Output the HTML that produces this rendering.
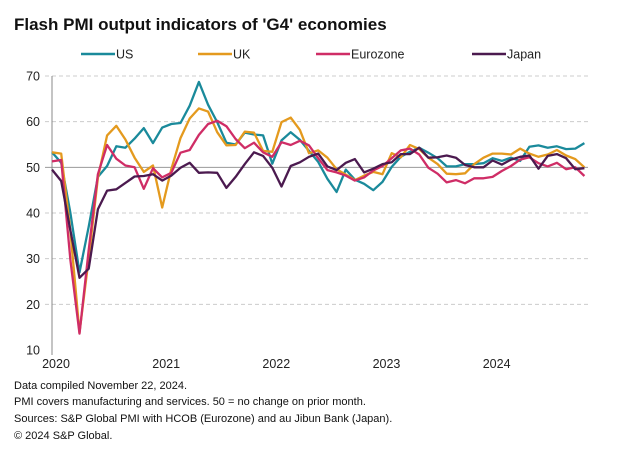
<!DOCTYPE html>
<html><head><meta charset="utf-8"><style>
body{margin:0;background:#fff;width:628px;height:459px;overflow:hidden;font-family:"Liberation Sans",Arial,sans-serif}
</style></head><body>
<svg width="628" height="459" xmlns="http://www.w3.org/2000/svg" font-family="Liberation Sans, Arial, sans-serif">
<text x="14" y="30" font-size="17" font-weight="bold" fill="#111">Flash PMI output indicators of 'G4' economies</text>
<g id="legend" font-size="12.5" fill="#222"></g>
<g id="grid"></g>
<g id="axes" font-size="12.5" fill="#222"></g>
<g id="series"></g>
<g font-size="11" fill="#111">
<text x="14" y="389">Data compiled November 22, 2024.</text>
<text x="14" y="405">PMI covers manufacturing and services. 50 = no change on prior month.</text>
<text x="14" y="422">Sources: S&amp;P Global PMI with HCOB (Eurozone) and au Jibun Bank (Japan).</text>
<text x="14" y="439">© 2024 S&amp;P Global.</text>
</g>
</svg>
<script>
const seriesNames=["US","UK","Eurozone","Japan"];
const colors=["#1a8a9b","#e49a1e","#cf2d66","#4b1a4f"];
const yTicks=[10,20,30,40,50,60,70];
const xTickLabels=["2020","2021","2022","2023","2024"];
const usValues=[53.3,51.0,40.0,27.0,37.0,47.9,50.3,54.6,54.3,56.3,58.6,55.3,58.7,59.5,59.7,63.5,68.7,63.7,59.9,55.4,55.0,57.6,57.2,57.0,50.8,55.9,57.7,56.0,53.6,51.2,47.5,44.6,49.5,47.3,46.4,45.0,46.8,50.1,52.3,53.4,54.3,53.2,52.0,50.2,50.2,50.7,50.7,50.9,52.0,51.4,52.1,51.4,54.5,54.8,54.3,54.6,54.0,54.1,55.3];
const ukValues=[53.3,53.0,36.0,13.8,30.0,47.7,57.0,59.1,56.1,52.1,49.0,50.4,41.2,49.6,56.4,60.7,62.9,62.2,57.7,54.8,54.9,57.8,57.6,53.6,53.4,59.9,60.9,58.2,53.1,53.7,52.1,49.6,48.4,47.2,48.2,49.0,48.5,53.1,52.2,54.9,54.0,52.1,50.7,48.6,48.5,48.7,50.7,52.1,53.0,53.0,52.8,54.1,53.0,52.3,52.8,53.8,52.6,51.8,50.0];
const ezValues=[51.3,51.6,29.7,13.6,31.9,48.5,54.9,51.9,50.4,50.0,45.3,49.8,47.8,48.8,53.2,53.8,57.1,59.5,60.2,59.0,56.2,54.2,55.4,53.3,52.3,55.5,54.9,55.8,54.8,52.0,49.4,48.9,48.2,47.1,47.8,49.3,50.3,52.0,53.7,54.1,52.8,49.9,48.6,46.7,47.2,46.5,47.6,47.6,47.9,49.2,50.3,51.7,52.2,50.9,50.2,51.0,49.6,50.0,48.1];
const jpValues=[49.5,47.0,36.2,25.8,27.8,40.8,44.9,45.2,46.6,48.0,48.1,48.5,47.1,48.2,49.9,51.0,48.8,48.9,48.8,45.5,47.9,50.7,53.3,52.5,49.9,45.8,50.3,51.1,52.3,53.0,50.2,49.4,51.0,51.8,48.9,49.7,50.7,51.1,52.9,52.9,54.3,52.1,52.2,52.6,52.1,50.5,50.0,50.0,51.5,50.6,51.7,52.3,52.6,49.7,52.5,52.9,52.0,49.6,49.8];
const allValues=[usValues,ukValues,ezValues,jpValues];
const NS="http://www.w3.org/2000/svg";
const x0=52,xStep=9.18,yTop=76,yBot=350,vMin=10,vMax=70;
const xScale=i=>x0+i*xStep;
const yScale=v=>yBot-(v-vMin)/(vMax-vMin)*(yBot-yTop);
function mk(tag,attrs,parent){const e=document.createElementNS(NS,tag);for(const k in attrs)e.setAttribute(k,attrs[k]);parent.appendChild(e);return e;}
const grid=document.getElementById('grid'),axes=document.getElementById('axes');
yTicks.forEach(t=>{
  const y=yScale(t);
  if(t===50){const l=mk('line',{x1:45,x2:588,y1:y,y2:y,stroke:'#999','stroke-width':1},grid);
    
    }
  else if(t!==10){const l=mk('line',{x1:45,x2:588,y1:y,y2:y,stroke:'#ccc','stroke-width':1,'stroke-dasharray':'4,3'},grid);
    
    }
  const tx=mk('text',{x:40,y:y+4.5,'text-anchor':'end'},axes);tx.textContent=t;
  
  
});
const ax=mk('line',{x1:52,x2:52,y1:yTop,y2:yBot+5,stroke:'#888','stroke-width':1},axes);


xTickLabels.forEach((s,i)=>{
  const x=xScale(i*12)+4;
  const tx=mk('text',{x:x,y:368,'text-anchor':'middle'},axes);tx.textContent=s;
  
  
});
const sg=document.getElementById('series');
allValues.forEach((vals,k)=>{
  const d=vals.map((v,i)=>(i?'L':'M')+xScale(i).toFixed(1)+','+yScale(v).toFixed(1)).join('');
  const p=mk('path',{d:d,fill:'none',stroke:colors[k],'stroke-width':2.3,'stroke-linejoin':'round'},sg);
  
  
});
const lg=document.getElementById('legend');
const lx=[81,198,316,472];
seriesNames.forEach((n,k)=>{
  const g=mk('g',{},lg);
  
  
  mk('line',{x1:lx[k],x2:lx[k]+34,y1:54,y2:54,stroke:colors[k],'stroke-width':2.5},g);
  const t=mk('text',{x:lx[k]+35,y:58.5},g);t.textContent=n;
});
</script>
</body></html>
